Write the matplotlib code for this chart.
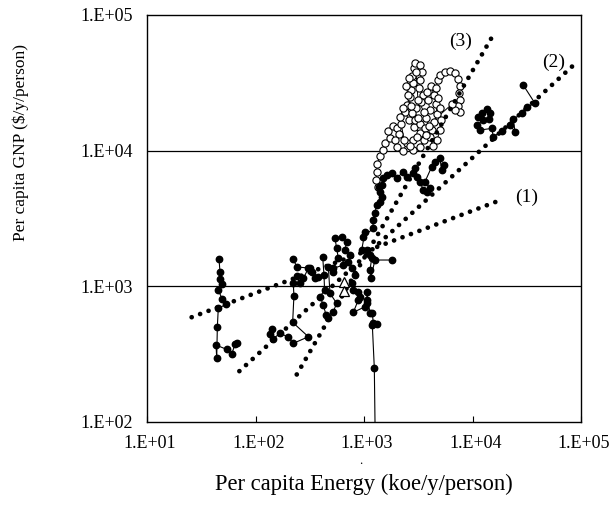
import matplotlib
matplotlib.use("Agg")
import matplotlib.pyplot as plt
from matplotlib.ticker import NullLocator
from matplotlib.transforms import ScaledTranslation

plt.rcParams['font.family'] = ['Liberation Serif', 'DejaVu Serif']

# dotted trend lines (1), (2), (3): start and end points
trend1_e = [25.8, 17400]
trend1_g = [592, 4270]
trend2_e = [71, 90100]
trend2_g = [237, 44400]
trend3_e = [240, 15450]
trend3_g = [224, 70800]

# country trajectories (filled circles), energy koe/y/person vs GNP $/y/person
a_e = [67.2, 64.7, 60.4, 54.3, 43.3, 43.9, 44.5, 45.4, 53.5, 49.4, 45.4, 48.7, 47.1, 47.1, 46.1]
a_g = [384, 374, 317, 343, 369, 294, 504, 689, 736, 802, 940, 1035, 1133, 1268, 1589]

b_e = [141, 136, 144, 168, 198, 223, 307, 220, 226, 223, 240, 257, 276, 307, 330, 353, 377, 318, 241, 223]
b_g = [482, 443, 407, 451, 425, 380, 425, 543, 849, 1057, 1191, 1052, 1145, 1357, 1282, 1145, 1171, 1364, 1387, 1581]

c_e = [416, 428, 433, 393, 422, 447, 469, 521, 560, 486, 469, 521]
c_g = [1652, 1211, 939, 838, 728, 614, 581, 650, 750, 888, 1394, 1282]

d_e = [770, 797, 886, 918, 886, 797, 1021, 1059, 1072, 1059, 1135, 1193, 1219, 1309, 1193, 1245, 1276]
d_g = [1052, 939, 912, 838, 793, 643, 707, 793, 750, 908, 632, 632, 534, 525, 519, 249, 52]

e_e = [826, 770, 717, 645, 521, 580, 560, 540, 623, 693, 668, 743]
e_g = [1211, 1357, 1518, 1435, 1357, 1608, 1905, 2259, 2321, 2131, 1851, 1701]

f_e = [1799, 1262, 1153, 1135, 1178, 1135, 1059, 952, 1021, 986, 1219, 1203, 1262, 1309, 1403,
       1456, 1403, 1384, 1456, 1507, 1619, 1799, 2001, 2302, 2477, 2846, 2951, 3062, 3281, 3523,
       3784, 4055, 3648, 4207, 4510, 5012, 5200, 5458]
f_g = [1563, 1563, 1145, 1318, 1608, 1701, 1851, 1851, 2525, 2321, 2675, 3080, 3487, 3972, 4199,
       4571, 4977, 5420, 5580, 6251, 6607, 6801, 6251, 6998, 6423, 6801, 7406, 6423, 5900, 5127,
       4977, 5277, 5900, 7609, 8283, 8775, 7194, 7834]

g_e = [11300, 12160, 13520, 14490, 14290, 12590, 10940, 11720, 15030, 15560, 18580, 22180, 24660,
       23770, 28380, 31990, 37670, 29380]
g_g = [17780, 19010, 20140, 19010, 17010, 16790, 15450, 14190, 14590, 12650, 13940, 15450, 13770,
       17010, 18830, 21050, 22320, 30410]

# trajectory drawn with open circles
open_e = [1346, 1291, 1318, 1318, 1403, 1496, 1563, 1738, 1663, 1849, 2014, 2193, 2103, 1931, 2014,
          2286, 2489, 2831, 2831, 3281, 3573, 3281, 2891, 2600, 2388, 2489, 2655, 2710, 2831, 2767,
          2891, 2951, 3281, 3428, 3281, 3214, 3499, 3350, 3013, 2767, 2951, 3281, 3724, 4055, 3890,
          3811, 4150, 4416, 4613, 4710, 4416, 4236, 4055, 4325, 4710, 5012, 5129, 5012, 4808, 4613,
          4808, 5012, 5585, 6209, 6902, 7345, 7674, 7516, 7674, 7345, 7674, 6902, 6471,
          3648, 3147, 2710, 2547, 2438, 2600, 3013, 3147, 3573, 3972, 3724, 3076, 2655, 2339, 2148, 2286]
open_g = [5395, 6067, 6950, 7962, 9120, 10093, 11376, 12388, 13932, 15171, 14678, 15704, 13243, 11967,
          10640, 9931, 11376, 11967, 10093, 10640, 11967, 13490, 14928, 16788, 19231, 21677, 24831,
          27990, 31477, 35481, 40644, 44259, 42756, 37931, 33113, 28907, 25704, 22803, 20606, 18923,
          16788, 15704, 17378, 19907, 23605, 27040, 29923, 25704, 22029, 18621, 16255, 14191, 12589,
          10814, 11967, 14191, 16788, 20606, 24434, 28907, 33113, 36058, 37931, 38637, 37325, 33729,
          29923, 26546, 23605, 21330, 19231, 19907, 22029,
          14678, 17378, 21330, 25704, 29923, 34276, 37931, 23605, 19231, 15171, 13032, 12589, 10814,
          11967, 17701, 20606]

tri_e = [655, 655]
tri_g = [1076, 923]

labels = ["(1)", "(2)", "(3)"]
label_e = [31770, 56360, 7834]
label_g = [4550, 44980, 64270]

xticks = [1e1, 1e2, 1e3, 1e4, 1e5]
xticklabels = ["1.E+01", "1.E+02", "1.E+03", "1.E+04", "1.E+05"]
yticks = [1e2, 1e3, 1e4, 1e5]
yticklabels = ["1.E+02", "1.E+03", "1.E+04", "1.E+05"]

fig = plt.figure(figsize=(6.13, 5.19), dpi=100)
ax = fig.add_axes([147 / 613, 1 - 422 / 519, 434 / 613, 407 / 519])
ax.set_xscale('log')
ax.set_yscale('log')
ax.set_xlim(10, 1e5)
ax.set_ylim(100, 1e5)

for gl in [1e3, 1e4]:
    ax.axhline(gl, color='black', lw=0.9, zorder=1)

ax.plot(open_e, open_g, '-o', color='black', lw=0.7, ms=5.2, mfc='white', mec='black', mew=0.8, zorder=3)

for te, tg in [(trend1_e, trend1_g), (trend2_e, trend2_g), (trend3_e, trend3_g)]:
    ax.plot(te, tg, color='black', lw=3.4, linestyle=(0, (0.01, 1.9)),
            dash_capstyle='round', zorder=4)

for se, sg in [(a_e, a_g), (b_e, b_g), (c_e, c_g), (d_e, d_g), (e_e, e_g), (f_e, f_g), (g_e, g_g)]:
    ax.plot(se, sg, '-o', color='black', lw=0.8, ms=4.6, zorder=5)

ax.plot(tri_e, tri_g, '^', ms=7.5, mfc='white', mec='black', mew=0.9, zorder=6)

for t, le, lg in zip(labels, label_e, label_g):
    ax.text(le, lg, t, fontsize=14, ha='center', va='center', zorder=7)

ax.set_xticks(xticks)
ax.set_xticklabels(xticklabels)
ax.set_yticks(yticks)
ax.set_yticklabels(yticklabels)
ax.xaxis.set_minor_locator(NullLocator())
ax.yaxis.set_minor_locator(NullLocator())
ax.tick_params(axis='x', direction='in', length=4, width=0.8, pad=9, labelsize=13)
ax.tick_params(axis='y', length=0, pad=10, labelsize=13)
shift = ScaledTranslation(3 / 100, 0, fig.dpi_scale_trans)
for lbl in ax.get_xticklabels():
    lbl.set_transform(lbl.get_transform() + shift)
for sp in ax.spines.values():
    sp.set_linewidth(1.0)

fig.text(364 / 613, 0.066, "Per capita Energy (koe/y/person)", fontsize=16.3, ha='center', va='center')
fig.text(0.034, 0.726, "Per capita GNP ($/y/person)", fontsize=12.5, ha='center', va='center',
         rotation=90)
fig.text(0.588, 0.112, ".", fontsize=9, ha='center', va='center')

fig.savefig("out.png", dpi=100)
